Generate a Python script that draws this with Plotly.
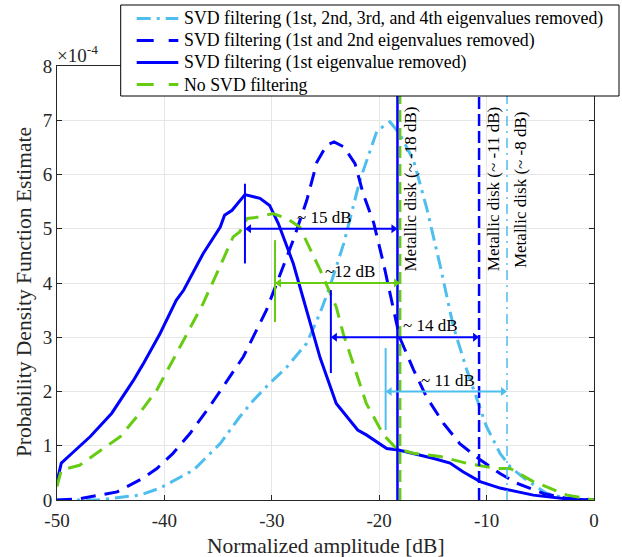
import plotly.graph_objects as go

# ---------------- data (y in units of 1e-4) ----------------
x_svd1234 = [-50, -46.3, -42.3, -40.4, -37.3, -34.8, -33.0, -31.7, -30.2, -28.6, -26.75, -25.5, -24.6,
             -23.3, -21.8, -20.2, -19.0, -18.1, -16.8, -15.6, -14.3, -13.1, -11.85, -11.2, -10.0, -8.75,
             -7.8, -6.3, -4.4, -2.5, 0]
y_svd1234 = [0.0, 0.0, 0.09, 0.22, 0.55, 1.04, 1.53, 1.84, 2.15, 2.45, 2.89, 3.45, 3.93,
             4.73, 5.89, 6.81, 6.97, 6.75, 6.26, 5.4, 4.3, 3.2, 2.4, 2.03, 1.35, 0.86,
             0.61, 0.37, 0.12, 0.03, 0.0]

x_svd12 = [-50, -48, -46.9, -44.4, -42.0, -40.7, -39.2, -37.6, -35.8, -34.2, -32.65, -30.5, -29.2,
           -28.0, -26.75, -25.8, -24.9, -24.2, -23.3, -22.25, -21.5, -20.5, -19.6, -18.7, -18.1,
           -16.8, -15.6, -14.0, -12.5, -10.6, -8.75, -7.2, -4.7, -2.5, 0]
y_svd12 = [0.0, 0.02, 0.06, 0.15, 0.4, 0.58, 0.86, 1.23, 1.72, 2.18, 2.64, 3.5, 4.17,
           4.79, 5.52, 6.23, 6.54, 6.6, 6.51, 6.2, 5.65, 5.1, 4.36, 3.56, 3.0,
           2.4, 1.9, 1.41, 1.04, 0.74, 0.49, 0.31, 0.12, 0.03, 0.0]

x_svd1 = [-50, -49.6, -48.5, -46.9, -44.9, -42.9, -42.0, -41.0, -40.4, -38.9, -38.2, -36.4, -34.8,
          -34.4, -33.7, -32.5, -31.1, -30.2, -29.4, -28.0, -26.9, -25.5, -24.0, -22.0, -21.2,
          -19.3, -18.2, -15.0, -13.4, -12.2, -10.6, -8.75, -5.65, -2.5, 0]
y_svd1 = [0.34, 0.68, 0.88, 1.17, 1.6, 2.2, 2.5, 2.85, 3.07, 3.68, 3.87, 4.54, 5.03,
          5.25, 5.34, 5.63, 5.56, 5.43, 5.10, 4.36, 3.6, 2.62, 1.78, 1.29, 1.2,
          0.95, 0.92, 0.77, 0.68, 0.52, 0.34, 0.22, 0.09, 0.02, 0.0]

x_nosvd = [-50, -49.6, -47.9, -45.4, -44.1, -42.5, -40.7, -39.2, -37.9, -36.4, -34.7, -33.6, -33.0,
           -32.3, -31.4, -29.9, -28.6, -27.4, -25.5, -24.0, -23.35, -21.2, -19.6, -18.4, -16.8,
           -14.3, -11.9, -9.1, -7.8, -5.65, -2.5, 0]
y_nosvd = [0.25, 0.55, 0.64, 0.98, 1.17, 1.55, 2.03, 2.58, 3.07, 3.62, 4.36, 4.85, 4.94,
           5.19, 5.21, 5.28, 5.19, 5.03, 4.24, 3.56, 3.07, 1.78, 1.2, 0.95, 0.86,
           0.8, 0.68, 0.58, 0.58, 0.34, 0.09, 0.0]

series_names = [
    "SVD filtering (1st, 2nd, 3rd, and 4th eigenvalues removed)",
    "SVD filtering (1st and 2nd eigenvalues removed)",
    "SVD filtering (1st eigenvalue removed)",
    "No SVD filtering",
]

# metallic disk reference levels (dB)
disk_levels = [-18.3, -10.7, -8.1, -18.05]
disk_labels = ["Metallic disk (~ -18 dB)", "Metallic disk (~ -11 dB)", "Metallic disk (~ -8 dB)"]
disk_label_x = [-17.1, -9.4, -6.9]

# dynamic-range arrows: start (dB), end (dB), level (1e-4), marker span, label
arrow_start = [-32.5, -29.7, -24.5, -19.4]
arrow_end = [-18.3, -18.05, -10.7, -8.1]
arrow_level = [5.0, 4.0, 3.0, 2.0]
marker_low = [4.36, 3.28, 2.34, 1.29]
marker_high = [5.83, 4.79, 3.87, 2.8]
arrow_labels = ["~ 15 dB", "~12 dB", "~ 14 dB", "~ 11 dB"]
arrow_label_x = [-25.05, -22.7, -15.2, -13.6]

x_ticks = [-50, -40, -30, -20, -10, 0]
y_ticks = [0, 1, 2, 3, 4, 5, 6, 7, 8]

# ---------------- styling ----------------
W, H = 622, 557
ML, MR, MT, MB = 57, 28, 66, 57
PW, PH = W - ML - MR, H - MT - MB
BLUE = "#0000FF"
CYAN = "#4DBEEE"
GREEN = "#66CC11"
FONT = "Liberation Serif"
AX = "#262626"
HEAD_PX = 4.0
DB_PER_PX = 50 / PW


def px_x(p):
    return (p - ML) / PW


def px_y(p):
    return (H - MB - p) / PH


fig = go.Figure()

curve_x = [x_svd1234, x_svd12, x_svd1, x_nosvd]
curve_y = [y_svd1234, y_svd12, y_svd1, y_nosvd]
curve_col = [CYAN, BLUE, BLUE, GREEN]
curve_dash = ["14px,6px,3px,6px", "15px,9px", "solid", "15px,9px"]
legend_dash = ["14px,6px,3px,6px", "17px,15px", "solid", "17px,15px"]

for xs, ys, c, d, n in zip(curve_x, curve_y, curve_col, curve_dash, series_names):
    fig.add_trace(go.Scatter(x=xs, y=ys, mode="lines", name=n, showlegend=False,
                             line=dict(color=c, width=3, dash=d)))

# vertical metallic-disk lines
vcols = [BLUE, BLUE, CYAN, GREEN]
vdash = ["solid", "12px,5px", "10px,5px,2px,5px", "12px,6px"]
vwid = [2.5, 2.5, 1.5, 2.5]
for lv, c, d, w in zip(disk_levels, vcols, vdash, vwid):
    fig.add_trace(go.Scatter(x=[lv, lv], y=[0, 8], mode="lines", showlegend=False,
                             line=dict(color=c, width=w, dash=d), hoverinfo="skip"))

# arrows: start markers, shafts and heads
acols = [BLUE, GREEN, BLUE, CYAN]
off = HEAD_PX * DB_PER_PX
for xs, xe, lv, lo, hi, c in zip(arrow_start, arrow_end, arrow_level, marker_low, marker_high, acols):
    fig.add_trace(go.Scatter(x=[xs, xs], y=[lo, hi], mode="lines", showlegend=False,
                             line=dict(color=c, width=2), hoverinfo="skip"))
    fig.add_trace(go.Scatter(x=[xs + off, xe - off], y=[lv, lv], mode="lines", showlegend=False,
                             line=dict(color=c, width=2), hoverinfo="skip"))
    fig.add_trace(go.Scatter(x=[xs + off], y=[lv], mode="markers", showlegend=False,
                             marker=dict(symbol="triangle-left", size=8, color=c, line=dict(width=0)),
                             hoverinfo="skip"))
    fig.add_trace(go.Scatter(x=[xe - off], y=[lv], mode="markers", showlegend=False,
                             marker=dict(symbol="triangle-right", size=8, color=c, line=dict(width=0)),
                             hoverinfo="skip"))

annotations = []
shapes = []
for xl, lv, lab in zip(arrow_label_x, arrow_level, arrow_labels):
    annotations.append(dict(x=xl, y=lv, xref="x", yref="y",
                            text=lab, showarrow=False, yanchor="bottom", yshift=0,
                            font=dict(family=FONT, size=17, color="black")))

# metallic disk labels
for xl, lab in zip(disk_label_x, disk_labels):
    annotations.append(dict(x=xl, y=5.73, xref="x", yref="y", text=lab, textangle=-90,
                            showarrow=False, xanchor="center", yanchor="middle",
                            font=dict(family=FONT, size=17, color="black")))

# exponent label
annotations.append(dict(x=0, y=1, xref="paper", yref="paper", text="×10<sup>-4</sup>",
                        showarrow=False, xanchor="left", yanchor="bottom", xshift=-2, yshift=-2,
                        font=dict(family=FONT, size=19, color=AX)))

# axis titles
annotations.append(dict(x=0.5, y=0, xref="paper", yref="paper", text="Normalized amplitude [dB]",
                        showarrow=False, xanchor="center", yanchor="middle", yshift=-46,
                        font=dict(family=FONT, size=21.5, color=AX)))
annotations.append(dict(x=0, y=0.479, xref="paper", yref="paper",
                        text="Probability Density Function Estimate", textangle=-90,
                        showarrow=False, xanchor="center", yanchor="middle", xshift=-33,
                        font=dict(family=FONT, size=21.5, color=AX)))

# legend box (drawn over the plot, as in the original)
LEG_L, LEG_R, LEG_T, LEG_B = 120.7, 619, 5, 96
LEG_ROWS = [18.5, 40.5, 62.5, 84.5]
LEG_LINE = (136.7, 178.3)
LEG_TEXT_X = 182.0
shapes.append(dict(type="rect", xref="paper", yref="paper", layer="above",
                   x0=px_x(LEG_L), x1=px_x(LEG_R), y0=px_y(LEG_B), y1=px_y(LEG_T),
                   fillcolor="white", line=dict(color="black", width=1)))
for ry, c, d, n in zip(LEG_ROWS, curve_col, legend_dash, series_names):
    shapes.append(dict(type="line", xref="paper", yref="paper", layer="above",
                       x0=px_x(LEG_LINE[0]), x1=px_x(LEG_LINE[1]), y0=px_y(ry), y1=px_y(ry),
                       line=dict(color=c, width=3, dash=d)))
    annotations.append(dict(x=px_x(LEG_TEXT_X), y=px_y(ry), xref="paper", yref="paper",
                            text=n, showarrow=False, xanchor="left", yanchor="middle",
                            font=dict(family=FONT, size=17.8, color="black")))

fig.update_layout(
    width=W, height=H,
    margin=dict(l=ML, r=MR, t=MT, b=MB),
    paper_bgcolor="white", plot_bgcolor="white",
    font=dict(family=FONT, size=19, color=AX),
    showlegend=False,
    annotations=annotations,
    shapes=shapes,
)
fig.update_xaxes(range=[-50, 0], tickvals=x_ticks, ticktext=[str(v) for v in x_ticks],
                 showline=True, linecolor=AX, linewidth=1, mirror="ticks",
                 ticks="inside", ticklen=5, tickcolor=AX, ticklabelstandoff=3,
                 showgrid=True, gridcolor="#E6E6E6", gridwidth=1, zeroline=False,
                 tickfont=dict(size=19))
fig.update_yaxes(range=[0, 8], tickvals=y_ticks, ticktext=[str(v) for v in y_ticks],
                 showline=True, linecolor=AX, linewidth=1, mirror="ticks",
                 ticks="inside", ticklen=5, tickcolor=AX,
                 showgrid=True, gridcolor="#E6E6E6", gridwidth=1, zeroline=False,
                 tickfont=dict(size=19))

fig.write_html("out.html", config={"displayModeBar": False},
               post_script="document.body.style.margin='0px';")
